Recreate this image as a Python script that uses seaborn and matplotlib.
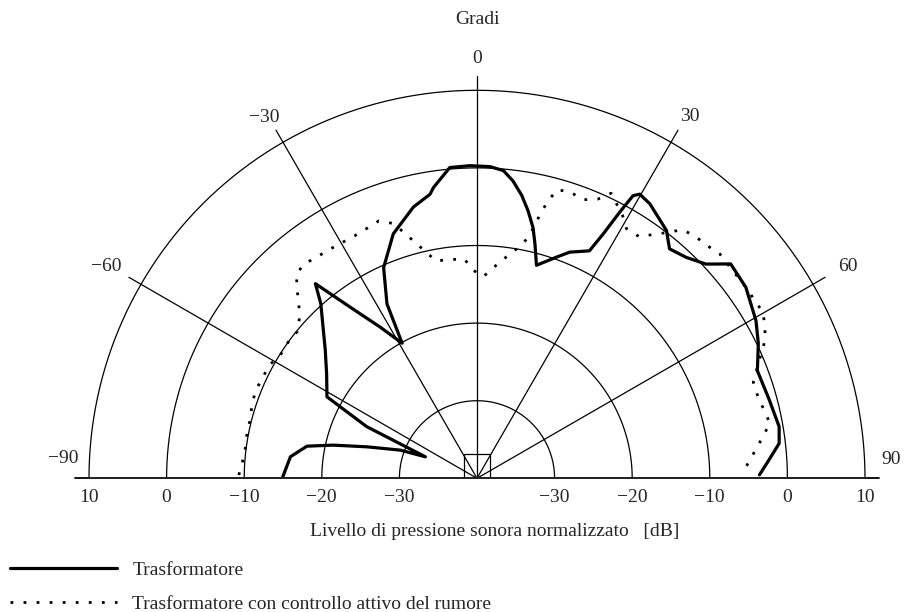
import numpy as np
import pandas as pd
import matplotlib
matplotlib.use("Agg")
import matplotlib.pyplot as plt
import seaborn as sns

# Directivity of the transformer: angle (degrees, 0 = front) and normalised level (dB)
ang_tr = [-90, -83.4, -79.3, -77.0, -74.0, -69.8, -67.4, -64.9, -61.5, -55.2,
          -49.8, -41.8, -39.7, -36.5, -32.6, -29.0, -27.3, -23.9, -18.9, -13.2,
          -9.4, -8.5, -5.0, -1.3, 2.4, 4.9, 6.9, 9.0, 10.8, 12.6,
          13.9, 15.6, 19.8, 22.3, 26.3, 27.3, 28.2, 28.9, 29.8, 32.2,
          37.4, 40.0, 43.4, 46.9, 49.8, 54.6, 60.5, 64.4, 69.0, 75.0,
          80.3, 83.4, 86.4, 89.3]
db_tr = [-14.9, -15.8, -17.7, -21.0, -25.3, -29.5, -32.8, -24.3, -18.0, -16.4,
         -14.4, -9.8, -7.4, -12.6, -16.9, -20.1, -14.7, -10.3, -6.7, -4.1,
         -2.9, -2.1, 0.2, 0.3, 0.2, -0.2, -1.4, -3.1, -4.9, -6.9,
         -8.9, -11.5, -9.7, -8.5, -7.3, -4.6, -1.1, 1.6, 2.2, 1.8,
         0.2, -1.4, -0.8, 0.4, 2.8, 2.5, 1.3, 0.2, -1.3, -1.0,
         -0.5, -0.8, -2.3, -3.6]

# Same transformer with active noise control
ang_ac = [-89.2, -86.0, -82.5, -78.9, -75.2, -72.0, -68.3, -65.0, -61.5, -58.0,
          -54.4, -50.8, -47.7, -45.5, -43.5, -41.5, -39.0, -36.0, -33.0, -29.8,
          -26.8, -23.7, -20.9, -18.3, -16.6, -14.8, -12.7, -10.7, -7.0, -3.3,
          -1.0, 1.8, 4.6, 7.2, 9.8, 11.8, 12.9, 13.5, 14.4, 15.5,
          18.1, 20.8, 23.4, 25.2, 29.0, 30.9, 33.9, 35.9, 37.8, 39.6,
          42.3, 44.8, 47.2, 54.6, 57.2, 59.8, 62.1, 64.5, 66.3, 70.8,
          73.7, 76.5, 79.3, 81.6, 83.9, 86.3, 88.9]
db_ac = [-9.3, -9.7, -9.9, -9.8, -9.8, -9.5, -9.3, -9.5, -9.5, -10.1,
         -10.0, -10.1, -9.1, -7.8, -6.3, -4.9, -4.5, -4.8, -4.9, -5.0,
         -5.0, -4.8, -4.5, -5.4, -6.9, -8.5, -10.1, -11.5, -11.6, -11.7,
         -13.2, -14.0, -12.7, -11.4, -10.0, -8.5, -6.6, -4.8, -3.1, -1.4,
         -1.2, -1.6, -0.8, 0.6, -1.3, -2.5, -2.5, -1.2, 0.1, 1.6,
         2.0, 2.2, 2.6, 2.5, 2.5, 2.6, 2.0, 1.1, 0.0, -2.3,
         -2.3, -2.0, -1.6, -2.7, -3.8, -4.8, -5.8]

series_names = ["Trasformatore", "Trasformatore con controllo attivo del rumore"]

ring_levels = [-30, -20, -10, 0, 10]
ring_labels = ["\u221230", "\u221220", "\u221210", "0", "10"]
spoke_angles = [-90, -60, -30, 0, 30, 60, 90]
spoke_labels = ["\u221290", "\u221260", "\u221230", "0", "30", "60", "90"]

R_MIN, R_MAX = -40, 10
R_EXT = 11.8
FS = 14

sns.set_theme(style="white")
plt.rcParams["font.family"] = ["Liberation Serif", "DejaVu Serif"]

W, H = 905, 612
fig = plt.figure(figsize=(W / 100, H / 100), dpi=100)
fig.patch.set_facecolor("white")

# half-disc polar axes: the centre sits a quarter of the way up a square axes box
cx, cy, radius = 477.0, 478.3, 388.0
side = 2 * radius
ax = fig.add_axes([(cx - radius) / W, (H - cy - side / 4) / H, side / W, side / H],
                  projection="polar")
ax.set_theta_zero_location("N")
ax.set_theta_direction(-1)
ax.set_thetamin(-90)
ax.set_thetamax(90)
ax.set_ylim(R_MIN, R_MAX)
ax.set_xticks([])
ax.set_yticks([])
ax.grid(False)
for sp in ax.spines.values():
    sp.set_visible(False)
ax.patch.set_alpha(0)

# grid: level circles, angle spokes and the baseline
arc = np.radians(np.linspace(-90, 90, 361))
for lev in ring_levels:
    ax.plot(arc, np.full_like(arc, lev), color="black", lw=0.9, clip_on=False)
for a in spoke_angles:
    ax.plot([np.radians(a)] * 2, [R_MIN, R_EXT], color="black",
            lw=1.3 if abs(a) == 90 else 0.9, clip_on=False)

# small square marking the source position
hw, hh = 1.67, 3.08
sq_x = np.array([-hw, -hw, hw, hw])
sq_y = np.array([0.0, hh, hh, 0.0])
ax.plot(np.arctan2(sq_x, sq_y), R_MIN + np.hypot(sq_x, sq_y), color="black", lw=0.9)

# measured curves
df_tr = pd.DataFrame({"theta": np.radians(ang_tr), "db": db_tr})
df_ac = pd.DataFrame({"theta": np.radians(ang_ac), "db": db_ac})
sns.lineplot(data=df_tr, x="theta", y="db", ax=ax, color="black", lw=2.3,
             estimator=None, sort=False, legend=False)
line_tr = ax.lines[-1]
sns.lineplot(data=df_ac, x="theta", y="db", ax=ax, color="black", lw=2.0,
             linestyle=(0, (1, 3.7)), estimator=None, sort=False, legend=False)
line_ac = ax.lines[-1]
ax.set_xlabel("")
ax.set_ylabel("")

# angle labels
label_pos = {-90: (-87.2, 13.35), -60: (-60.3, 15.0), -30: (-30.5, 13.9), 0: (0, 14.15),
             30: (30.4, 14.1), 60: (60.3, 15.0), 90: (87.4, 13.4)}
for a, txt in zip(spoke_angles, spoke_labels):
    t, r = label_pos[a]
    ax.text(np.radians(t), r, txt, ha="center", va="center", fontsize=FS, clip_on=False)

# level labels under the baseline, on both sides
for side_ang in (-90, 90):
    for lev, txt in zip(ring_levels, ring_labels):
        ax.annotate(txt, xy=(np.radians(side_ang), lev), xytext=(0, -19),
                    textcoords="offset pixels", ha="center", va="center",
                    fontsize=FS, annotation_clip=False)

fig.text(cx / W, 1 - 20 / H, "Gradi", ha="center", va="center", fontsize=FS)
fig.text(495 / W, 1 - 531 / H, "Livello di pressione sonora normalizzato   [dB]",
         ha="center", va="center", fontsize=FS)

fig.legend(handles=[line_tr, line_ac], labels=series_names, loc="upper left",
           bbox_to_anchor=(10 / W, 1 - 561 / H), frameon=False, fontsize=FS,
           handlelength=5.5, handletextpad=0.8, labelspacing=0.85,
           borderpad=0, borderaxespad=0)

fig.savefig("out.png", dpi=100, facecolor="white")
